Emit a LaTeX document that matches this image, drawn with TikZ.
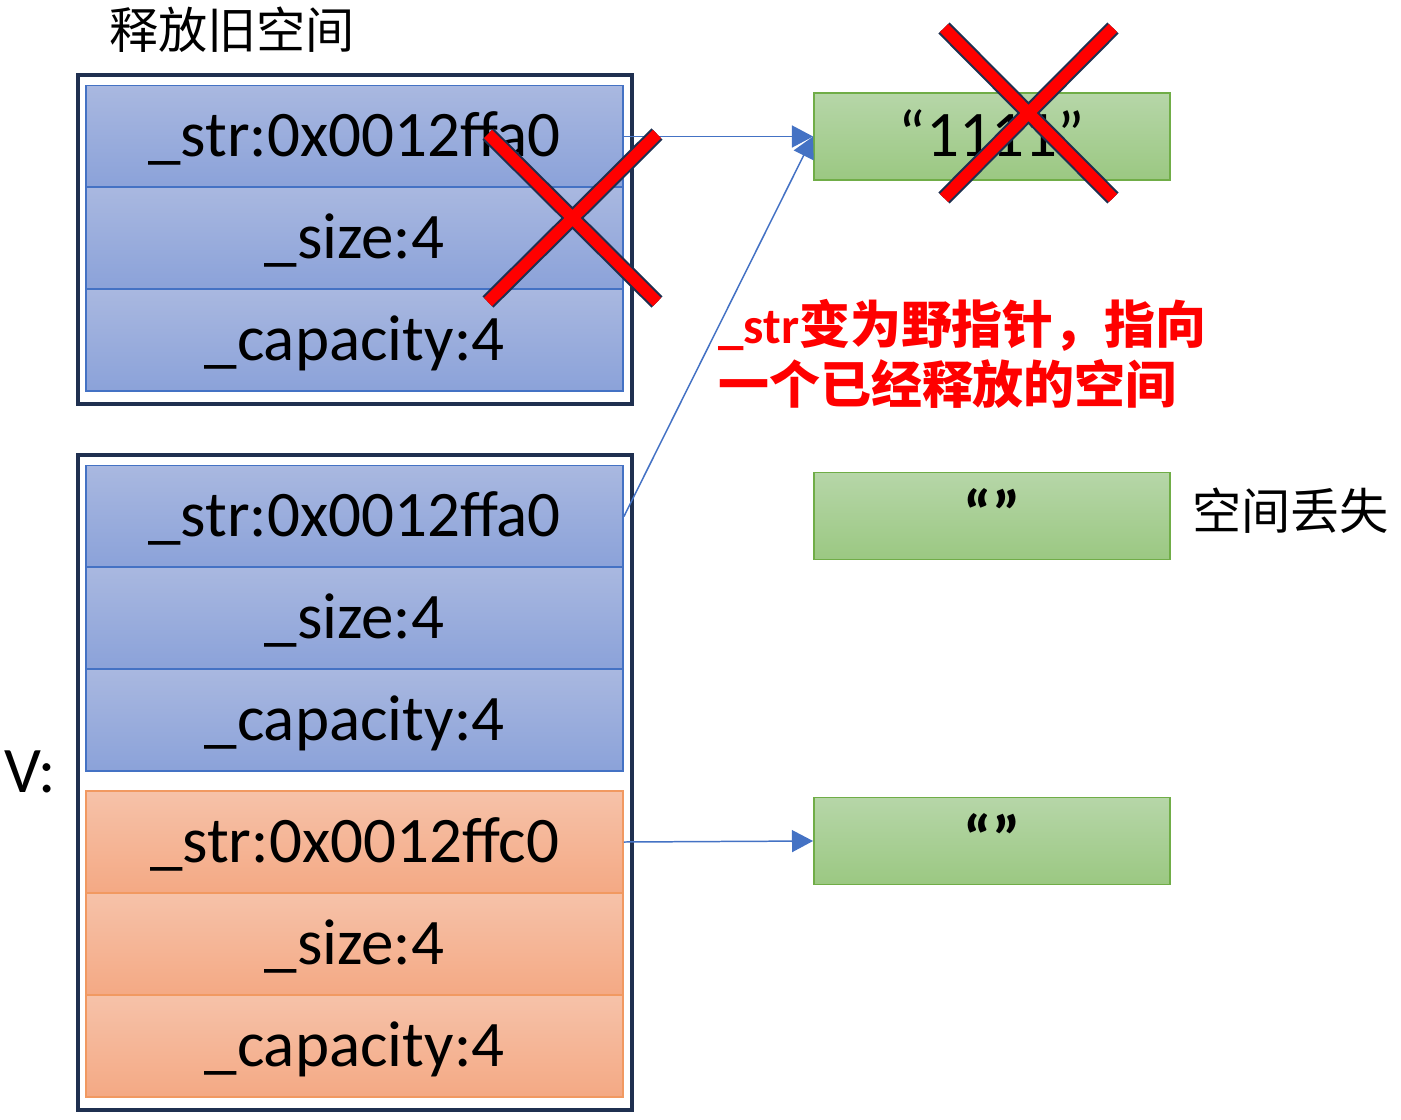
\documentclass[tikz,border=0pt]{standalone}
\usepackage{fontspec}
\setmainfont{Carlito}
\newfontfamily\cjk{Noto Sans CJK SC}
\usetikzlibrary{arrows.meta}

\definecolor{cellblue}{HTML}{4472C4}
\definecolor{bluetop}{HTML}{A9B8E0}
\definecolor{bluebot}{HTML}{8BA2D9}
\definecolor{cellorange}{HTML}{ED7D31}
\definecolor{orangetop}{HTML}{F6C2A9}
\definecolor{orangebot}{HTML}{F4A984}
\definecolor{cellgreen}{HTML}{70AD47}
\definecolor{greentop}{HTML}{B6D6A8}
\definecolor{greenbot}{HTML}{9BC882}
\definecolor{framenavy}{HTML}{1F3050}
\definecolor{xred}{HTML}{FF0000}

\begin{document}
\begin{tikzpicture}[x=0.02cm, y=-0.02cm]
            \tikzstyle{every node}=[font=\fontsize{37}{44}\selectfont, text=black]
            \tikzstyle{cell}=[rectangle, inner sep=0pt, line width=1.1pt, minimum width=10.74cm, minimum height=2.04cm, text height=23pt, text depth=0pt]
            \tikzstyle{bluecell}=[cell, draw=cellblue, top color=bluetop, bottom color=bluebot]
            \tikzstyle{orangecell}=[cell, draw=orangetop!40!cellorange, top color=orangetop, bottom color=orangebot]
            \tikzstyle{strbox}=[rectangle, inner sep=0pt, line width=1.1pt, draw=cellgreen, top color=greentop, bottom color=greenbot, minimum width=7.12cm, minimum height=1.74cm, text height=23pt, text depth=0pt]
            \tikzstyle{frame}=[draw=framenavy, line width=1.8pt]
            \tikzstyle{ptr}=[cellblue, line width=0.85pt, -{Triangle[length=12pt, width=12.5pt]}]
            \tikzstyle{label}=[font=\cjk\fontsize{28}{34}\selectfont]

            \useasboundingbox (0,0) rectangle (1401,1120);

            % old space
            \node[label] (oldtitle) at (232,30) {释放旧空间};
            \draw[frame] (78,75) rectangle (632,404);
            \node[bluecell] (oldstr) at (354.5,136.5) {\_str:0x0012ffa0};
            \node[bluecell] (oldsize) at (354.5,238) {\_size:4};
            \node[bluecell] (oldcap) at (354.5,340) {\_capacity:4};

            % vector v
            \node (v) at (30,772) {V:};
            \draw[frame] (78,455) rectangle (632,1110);
            \node[bluecell] (v1str) at (354.5,516.5) {\_str:0x0012ffa0};
            \node[bluecell] (v1size) at (354.5,618) {\_size:4};
            \node[bluecell] (v1cap) at (354.5,720) {\_capacity:4};
            \node[orangecell] (v2str) at (354.5,842) {\_str:0x0012ffc0};
            \node[orangecell] (v2size) at (354.5,944) {\_size:4};
            \node[orangecell] (v2cap) at (354.5,1046) {\_capacity:4};

            % strings
            \node[strbox] (s1) at (992,136.5) {“1111”};
            \node[strbox] (s2) at (992,516) {\bfseries “”};
            \node[strbox] (s3) at (992,841) {\bfseries “”};
            \node[label, anchor=west] (lost) at (1186,511) {空间丢失};

            \draw[ptr] (oldstr.east) -- (s1.west);
            \draw[ptr] (v1str.east) -- (s1.west);
            \draw[ptr] (v2str.east) -- (s3.west);

            \node[anchor=west, align=left, text=xred, font=\bfseries\fontsize{29}{34}\selectfont] (wild) at (712,354)
                {\_str{\cjk 变为野指针，指向}\\{\cjk 一个已经释放的空间}};

            % crosses
            \tikzstyle{cross}=[framenavy, line width=9pt]
            \draw[cross] (488,134) -- (657,302) (657,134) -- (488,302);
            \draw[cross] (944,28) -- (1113,198) (1113,28) -- (944,198);
            \tikzstyle{cross}=[xred, line width=6.6pt]
            \draw[cross] (488,134) -- (657,302) (657,134) -- (488,302);
            \draw[cross] (944,28) -- (1113,198) (1113,28) -- (944,198);
\end{tikzpicture}
\end{document}
